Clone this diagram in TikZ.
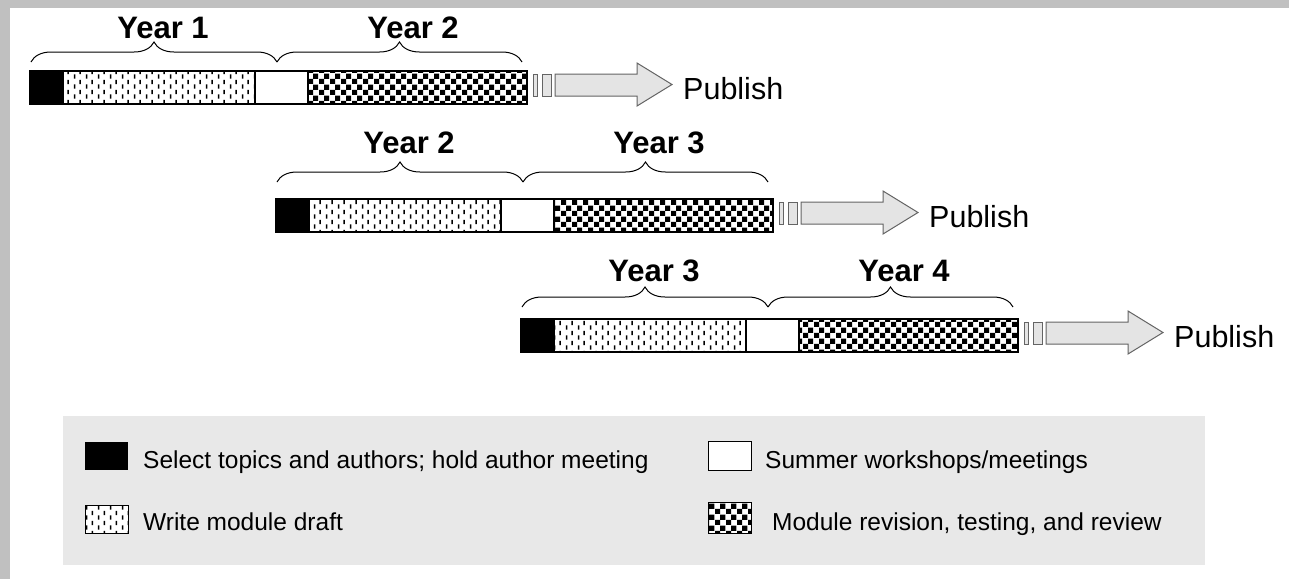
\documentclass[tikz,border=0pt]{standalone}
\usepackage{fontspec}
\setmainfont{Liberation Sans}
\usetikzlibrary{patterns,decorations.pathreplacing}
\definecolor{framegray}{RGB}{192,192,192}
\definecolor{legendgray}{RGB}{232,232,232}
\definecolor{arrowfill}{RGB}{228,228,228}
\definecolor{arrowline}{RGB}{100,100,100}
\pgfdeclarepatternformonly{mychecker}{\pgfpointorigin}{\pgfpoint{11pt}{11pt}}{\pgfpoint{11pt}{11pt}}{%
 \pgfpathrectangle{\pgfpointorigin}{\pgfpoint{5.5pt}{5.5pt}}%
 \pgfpathrectangle{\pgfpoint{5.5pt}{5.5pt}}{\pgfpoint{5.5pt}{5.5pt}}%
 \pgfusepath{fill}}
\pgfdeclarepatternformonly{mydashes}{\pgfpointorigin}{\pgfpoint{12pt}{10pt}}{\pgfpoint{12pt}{10pt}}{%
 \pgfpathrectangle{\pgfpoint{2pt}{0.3pt}}{\pgfpoint{1.6pt}{4.6pt}}%
 \pgfpathrectangle{\pgfpoint{8pt}{5.3pt}}{\pgfpoint{1.6pt}{4.6pt}}%
 \pgfusepath{fill}}
\tikzset{
  segline/.style={draw=black, line width=1.3pt},
  dashfill/.style={pattern=mydashes, pattern color=black},
  checkfill/.style={pattern=mychecker, pattern color=black},
  yearlbl/.style={font=\fontsize{31}{36}\selectfont\bfseries, inner sep=0pt, anchor=base},
  pubtxt/.style={font=\fontsize{30.5}{36}\selectfont, inner sep=0pt, anchor=base west},
  legtxt/.style={font=\fontsize{24.5}{30}\selectfont, inner sep=0pt, anchor=base west},
  arrowsh/.style={draw=arrowline, fill=arrowfill, line width=1pt},
  bracestyle/.style={decorate, decoration={brace, amplitude=20pt}, line width=1pt}
}
\begin{document}
\begin{tikzpicture}[x=1pt,y=-1pt]
\fill[white] (0,0) rectangle (1289,579);
\fill[framegray] (0,0) rectangle (10,579);
\fill[framegray] (0,0) rectangle (1289,8);
\useasboundingbox (0,0) rectangle (1289,579);

\foreach \dx/\by/\ly/\bry/\la/\lb/\n in {0/71/38/62/1/2/a, 246/199/153/182/2/3/b, 491/319/281/307/3/4/c} {
  % bar
  \fill[black] (30+\dx,\by) rectangle (63+\dx,\by+33);
  \fill[white] (63+\dx,\by) rectangle (255+\dx,\by+33);
  \fill[dashfill] (63+\dx,\by) rectangle (255+\dx,\by+33);
  \fill[white] (255+\dx,\by) rectangle (308+\dx,\by+33);
  \fill[white] (308+\dx,\by) rectangle (527+\dx,\by+33);
  \fill[checkfill] (308+\dx,\by) rectangle (527+\dx,\by+33);
  \draw[segline] (30+\dx,\by) rectangle (527+\dx,\by+33);
  \draw[segline] (63+\dx,\by) -- (63+\dx,\by+33);
  \draw[segline] (255+\dx,\by) -- (255+\dx,\by+33);
  \draw[segline] (308+\dx,\by) -- (308+\dx,\by+33);
  % small boxes and arrow
  \draw[arrowsh] (533+\dx,\by+3) rectangle (537+\dx,\by+25);
  \draw[arrowsh] (542+\dx,\by+3) rectangle (551+\dx,\by+25);
  \draw[arrowsh] (555+\dx,\by+3) -- (637+\dx,\by+3) -- (637+\dx,\by-8) -- (672+\dx,\by+13.5)
     -- (637+\dx,\by+35) -- (637+\dx,\by+25) -- (555+\dx,\by+25) -- cycle;
  \node[pubtxt] (pub\n) at (683+\dx,\by+28) {Publish};
  % braces and labels
  \draw[bracestyle] (31+\dx,\bry) -- (277+\dx,\bry);
  \draw[bracestyle] (277+\dx,\bry) -- (522+\dx,\bry);
  \node[yearlbl] (ya\n) at (163+\dx,\ly) {Year \la};
  \node[yearlbl] (yb\n) at (413+\dx,\ly) {Year \lb};
}

% legend
\fill[legendgray] (63,416) rectangle (1205,565);
\fill[black] (85,442) rectangle (128,470);
\node[legtxt] (leg1) at (143,468) {Select topics and authors; hold author meeting};
\fill[white] (85,505) rectangle (128,533);
\fill[dashfill] (85,505) rectangle (128,533);
\draw[black, line width=1pt] (85,505) rectangle (128,533);
\node[legtxt] (leg2) at (143,530) {Write module draft};
\draw[black, fill=white, line width=1pt] (708,441) rectangle (751,470);
\node[legtxt] (leg3) at (765,468) {Summer workshops/meetings};
\fill[white] (708,502) rectangle (751,533);
\fill[checkfill] (708,502) rectangle (751,533);
\draw[black, line width=1pt] (708,502) rectangle (751,533);
\node[legtxt] (leg4) at (772,530) {Module revision, testing, and review};
\end{tikzpicture}
\end{document}
